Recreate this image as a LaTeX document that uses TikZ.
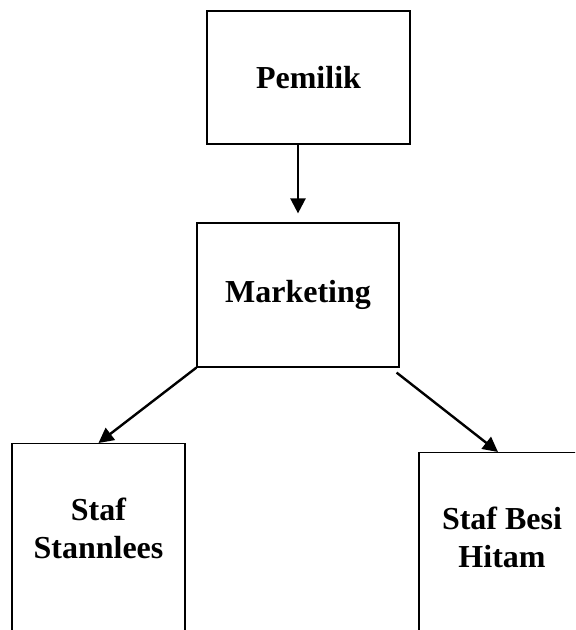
\documentclass[tikz,border=0pt]{standalone}
\usepackage{fontspec}
\setmainfont{Liberation Serif}
\usetikzlibrary{arrows.meta}
\tikzset{
  box/.style={draw,line width=0.6pt,inner sep=0pt,align=center,
    font=\bfseries\fontsize{16}{19}\selectfont},
  lbl/.style={align=center,font=\bfseries\fontsize{16}{19}\selectfont},
  arr/.style={line width=1.2pt,-{Triangle[length=7.5pt,width=7.5pt]}}
}
\begin{document}
\begin{tikzpicture}[x=0.5pt,y=-0.5pt]
\useasboundingbox (0,0) rectangle (575,630);
\clip (0,0) rectangle (575,630);
\path (308.5,77.5) node(pem) [box,minimum width=101.5pt,minimum height=66.5pt] {Pemilik}
(298,295) node(mkt) [box,minimum width=101pt,minimum height=72pt] {Marketing}
(98.5,443) node(stan) [box,anchor=north,minimum width=86.5pt,minimum height=110pt,
  label={[lbl,name=stantxt,anchor=center,yshift=-42.5pt]north:{Staf\\Stannlees}}] {}
(502,452) node(besi) [box,anchor=north,minimum width=83pt,minimum height=110pt,
  label={[lbl,name=besitxt,anchor=center,yshift=-42.5pt]north:{Staf Besi\\Hitam}}] {};
\draw[arr] (pem.south -| mkt.north) -- ([yshift=4.5pt]mkt.north);
\draw[arr] (mkt.south west) -- (stan.north);
\draw[arr] ([xshift=-1.5pt,yshift=-2.5pt]mkt.south east) -- ([xshift=-2pt]besi.north);
\end{tikzpicture}
\end{document}
